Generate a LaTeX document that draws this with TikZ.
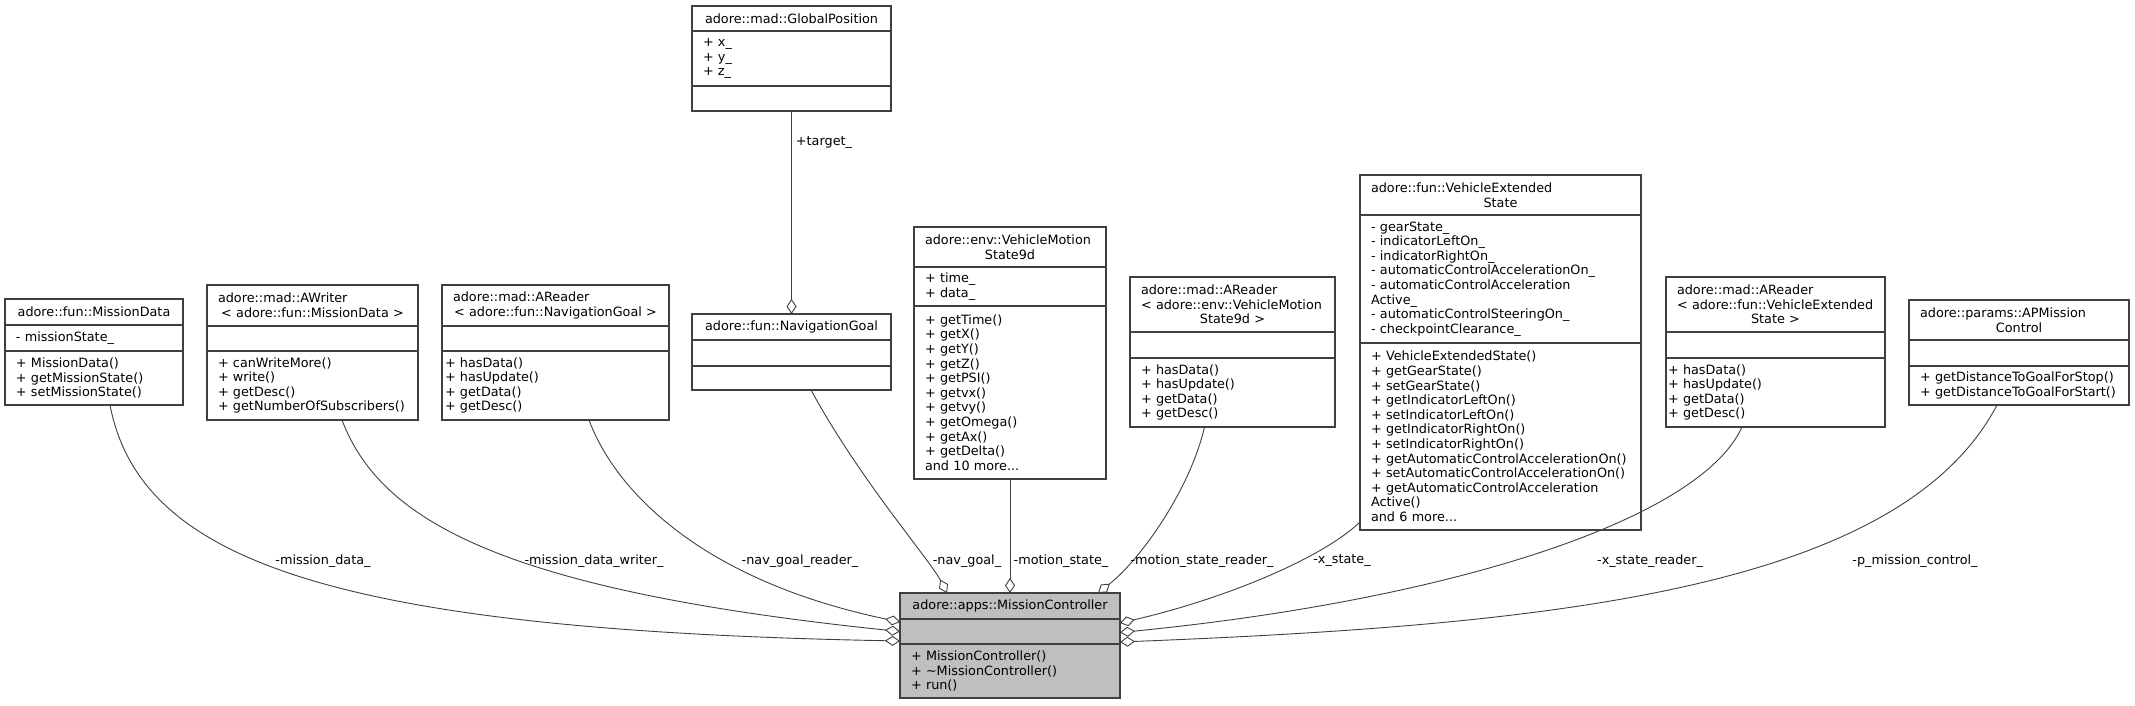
\documentclass[tikz,border=0pt]{standalone}
\usepackage{fontspec}
\setmainfont{DejaVu Sans}
\usetikzlibrary{arrows.meta,positioning}
\definecolor{edgeGray}{HTML}{404040}
\definecolor{ctrlGray}{HTML}{BFBFBF}
\hyphenpenalty=10000
\newcommand\lastline[1]{\leavevmode\hfill#1\hfill\null}
\tikzset{
  font=\fontsize{12.8}{14.6}\selectfont,
  part/.style={rectangle,draw=edgeGray,line width=1.1pt,fill=white,outer sep=0pt,
    inner xsep=11pt,inner ysep=0pt,minimum width=#1,
    text width={#1-2*\pgfkeysvalueof{/pgf/inner xsep}},
    align=left,minimum height=25pt,anchor=north west},
  member/.style={-{Diamond[open,length=15pt,width=10pt]},draw=edgeGray,line width=0.9pt},
  role/.style={inner sep=1pt},
}

\begin{document}
\begin{tikzpicture}[x=1pt,y=-1pt]

\useasboundingbox (0,0) rectangle (2135,705);

% classes used by the controller
\node[part=178pt,minimum height=26pt] (md) at (5,299) {\lastline{adore::fun::MissionData}};
\node[part=178pt,minimum height=26pt,below=0pt of md] (mdA) {-~missionState\_};
\node[part=178pt,minimum height=54pt,below=0pt of mdA] (mdM)
  {+~MissionData()\\+~getMissionState()\\+~setMissionState()};

\node[part=211pt,minimum height=41pt] (aw) at (207,285)
  {adore::mad::AWriter\\\lastline{<~adore::fun::MissionData~>}};
\node[part=211pt,below=0pt of aw] (awA) {};
\node[part=211pt,minimum height=69pt,below=0pt of awA] (awM)
  {+~canWriteMore()\\+~write()\\+~getDesc()\\+~getNumberOfSubscribers()};

\node[part=227pt,minimum height=41pt] (ngr) at (442,285)
  {adore::mad::AReader\\\lastline{<~adore::fun::NavigationGoal~>}};
\node[part=227pt,below=0pt of ngr] (ngrA) {};
\node[part=227pt,inner xsep=3pt,minimum height=69pt,below=0pt of ngrA] (ngrM)
  {+~hasData()\\+~hasUpdate()\\+~getData()\\+~getDesc()};

\node[part=199pt] (gp) at (692,6) {\lastline{adore::mad::GlobalPosition}};
\node[part=199pt,minimum height=55pt,below=0pt of gp] (gpA) {+~x\_\\+~y\_\\+~z\_};
\node[part=199pt,below=0pt of gpA] (gpM) {};

\node[part=199pt,minimum height=26pt] (ng) at (692,314) {\lastline{adore::fun::NavigationGoal}};
\node[part=199pt,minimum height=26pt,below=0pt of ng] (ngA) {};
\node[part=199pt,minimum height=24pt,below=0pt of ngA] (ngM) {};

\node[part=192pt,minimum height=40pt] (vms) at (914,227)
  {adore::env::VehicleMotion\\\lastline{State9d}};
\node[part=192pt,minimum height=39pt,below=0pt of vms] (vmsA) {+~time\_\\+~data\_};
\node[part=192pt,minimum height=173pt,below=0pt of vmsA] (vmsM)
  {+~getTime()\\+~getX()\\+~getY()\\+~getZ()\\+~getPSI()\\+~getvx()\\+~getvy()\\
   +~getOmega()\\+~getAx()\\+~getDelta()\\and 10 more...};

\node[part=205pt,minimum height=55pt] (msr) at (1130,277)
  {adore::mad::AReader\\<~adore::env::VehicleMotion\\\lastline{State9d~>}};
\node[part=205pt,minimum height=26pt,below=0pt of msr] (msrA) {};
\node[part=205pt,minimum height=69pt,below=0pt of msrA] (msrM)
  {+~hasData()\\+~hasUpdate()\\+~getData()\\+~getDesc()};

\node[part=281pt,minimum height=40pt] (ves) at (1360,175)
  {adore::fun::VehicleExtended\\\lastline{State}};
\node[part=281pt,minimum height=128pt,below=0pt of ves] (vesA)
  {-~gearState\_\\-~indicatorLeftOn\_\\-~indicatorRightOn\_\\-~automaticControlAccelerationOn\_\\
   -~automaticControlAcceleration\\Active\_\\-~automaticControlSteeringOn\_\\-~checkpointClearance\_};
\node[part=281pt,minimum height=187pt,below=0pt of vesA] (vesM)
  {+~VehicleExtendedState()\\+~getGearState()\\+~setGearState()\\+~getIndicatorLeftOn()\\
   +~setIndicatorLeftOn()\\+~getIndicatorRightOn()\\+~setIndicatorRightOn()\\
   +~getAutomaticControlAccelerationOn()\\+~setAutomaticControlAccelerationOn()\\
   +~getAutomaticControlAcceleration\\Active()\\and 6 more...};

\node[part=219pt,minimum height=55pt] (xsr) at (1666,277)
  {adore::mad::AReader\\<~adore::fun::VehicleExtended\\\lastline{State~>}};
\node[part=219pt,minimum height=26pt,below=0pt of xsr] (xsrA) {};
\node[part=219pt,inner xsep=2pt,minimum height=69pt,below=0pt of xsrA] (xsrM)
  {+~hasData()\\+~hasUpdate()\\+~getData()\\+~getDesc()};

\node[part=220pt,minimum height=40pt] (apm) at (1909,300)
  {adore::params::APMission\\\lastline{Control}};
\node[part=220pt,minimum height=26pt,below=0pt of apm] (apmA) {};
\node[part=220pt,minimum height=39pt,below=0pt of apmA] (apmM)
  {+~getDistanceToGoalForStop()\\+~getDistanceToGoalForStart()};

% the controller
\node[part=220pt,fill=ctrlGray,minimum height=26pt] (mc) at (900,593)
  {\lastline{adore::apps::MissionController}};
\node[part=220pt,fill=ctrlGray,below=0pt of mc] (mcA) {};
\node[part=220pt,fill=ctrlGray,minimum height=54pt,below=0pt of mcA] (mcM)
  {+~MissionController()\\+~\textasciitilde MissionController()\\+~run()};

% aggregations
\draw[member] (gpM.south) -- (ng.north);
\node[role] (targetLbl) at (824,143) {+target\_};

\draw[member] ([xshift=16pt]mdM.south) .. controls (140,560) and (330,630) .. ([yshift=3pt]mcA.south west);
\draw[member] ([xshift=29.5pt]awM.south) .. controls (380,520) and (500,590) .. (mcA.west);
\draw[member] ([xshift=33.5pt]ngrM.south) .. controls (615,490) and (700,580) .. ([yshift=-3pt]mcA.north west);
\draw[member] ([xshift=19.5pt]ngM.south) .. controls (860,480) and (930,560) .. ([xshift=-63pt]mc.north);
\draw[member] (vmsM.south) -- (mc.north);
\draw[member] ([xshift=-28pt]msrM.south) .. controls (1190,490) and (1140,560) .. ([xshift=88pt]mc.north);
\draw[member] ([yshift=8pt]vesM.south west) .. controls (1320,560) and (1220,600) .. ([yshift=-4pt]mcA.north east);
\draw[member] ([xshift=-33.5pt]xsrM.south) .. controls (1700,520) and (1450,600) .. ([yshift=-1pt]mcA.east);
\draw[member] ([xshift=-22pt]apmM.south) .. controls (1900,590) and (1550,625) .. ([yshift=2pt]mcA.south east);

\node[role] (mdLbl)  at (323,561)  {-mission\_data\_};
\node[role] (awLbl)  at (594,561)  {-mission\_data\_writer\_};
\node[role] (ngrLbl) at (800,561)  {-nav\_goal\_reader\_};
\node[role] (ngLbl)  at (967,561)  {-nav\_goal\_};
\node[role] (vmsLbl) at (1061,561) {-motion\_state\_};
\node[role] (msrLbl) at (1202,561) {-motion\_state\_reader\_};
\node[role] (vesLbl) at (1342,561) {-x\_state\_};
\node[role] (xsrLbl) at (1650,561) {-x\_state\_reader\_};
\node[role] (apmLbl) at (1915,561) {-p\_mission\_control\_};

\end{tikzpicture}
\end{document}
